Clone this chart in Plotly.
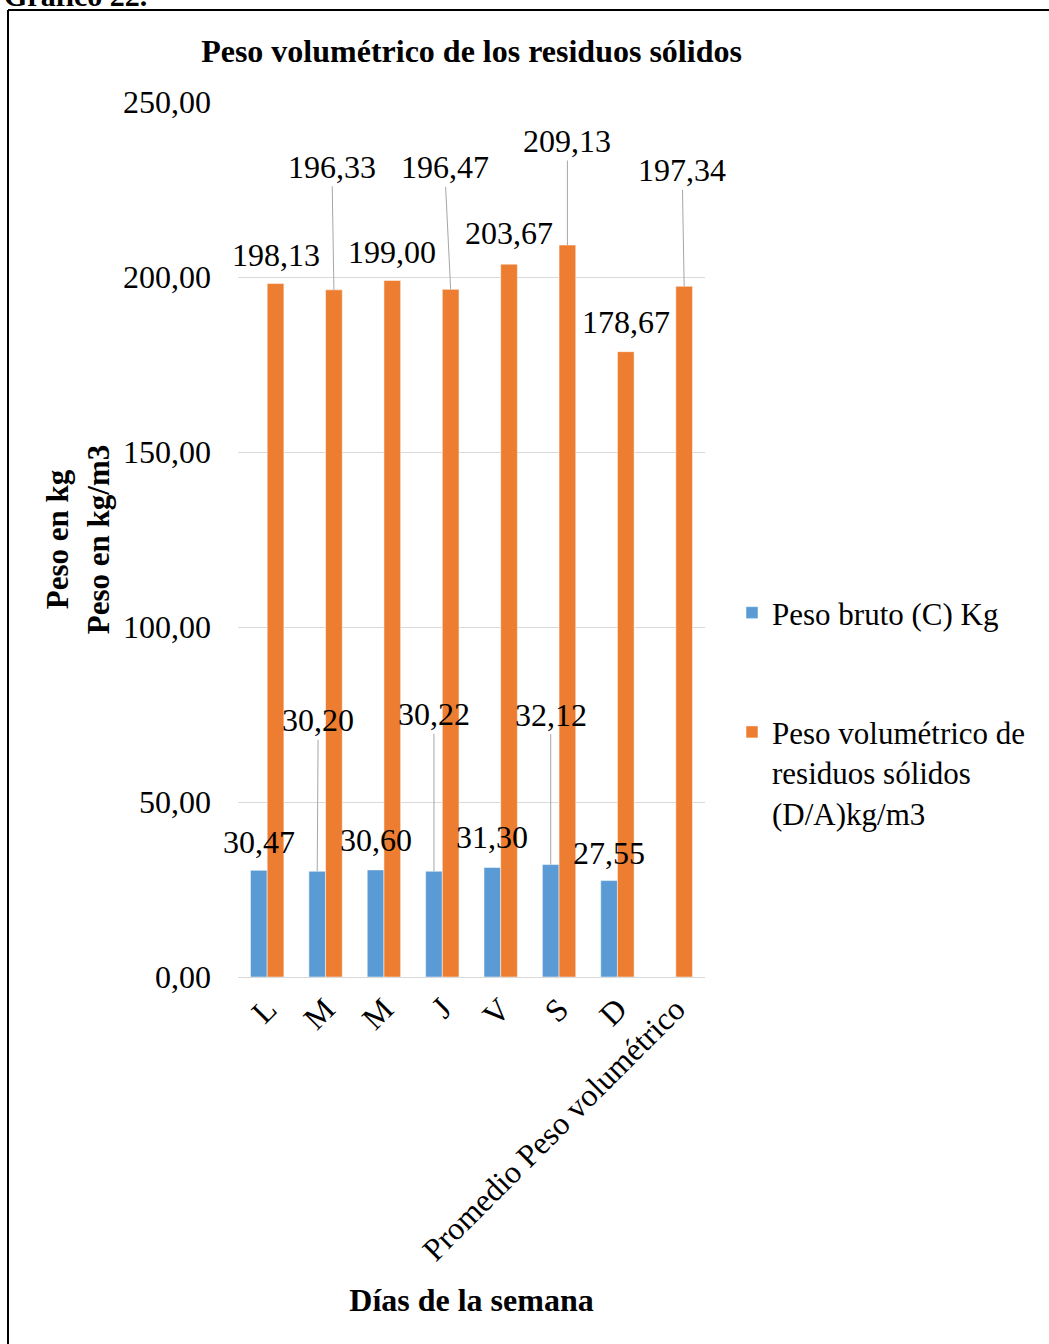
import plotly.graph_objects as go

# Días de la semana + promedio
dias = ["L", "M", "M", "J", "V", "S", "D", "Promedio Peso volumétrico"]
peso_bruto = [30.47, 30.20, 30.60, 30.22, 31.30, 32.12, 27.55, None]
peso_volumetrico = [198.13, 196.33, 199.00, 196.47, 203.67, 209.13, 178.67, 197.34]

nombre_bruto = "Peso bruto (C) Kg"
nombre_vol = "Peso volumétrico de<br>residuos sólidos<br>(D/A)kg/m3"

AZUL = "#5B9BD5"
NARANJA = "#ED7D31"
FUENTE = "Liberation Serif"
GRIS = "#D9D9D9"
TXT = 32

W, H = 1049, 1344
L_M, R_M, T_M, B_M = 238, 344, 102, 367
plot_w = W - L_M - R_M
plot_h = H - T_M - B_M

x_pos = list(range(len(dias)))
BAR_OFF = 0.143  # half of one bar width in category units

fig = go.Figure()
fig.add_bar(x=x_pos, y=peso_bruto, name=nombre_bruto, marker_color=AZUL,
            marker_line=dict(color="white", width=0.5), legendgroup="a")
fig.add_bar(x=x_pos, y=peso_volumetrico, name=nombre_vol, marker_color=NARANJA,
            marker_line=dict(color="white", width=0.5), legendgroup="b")


def fmt(v):
    return f"{v:.2f}".replace(".", ",")


# label offsets (px) from the bar top; leader line drawn when far away
off_bruto = [(0, -28), (1, -151), (0, -30), (0, -157), (0, -30), (0, -150), (0, -28), None]
off_vol = [(0, -29), (-2, -123), (0, -29), (-6, -122), (0, -31), (0, -104), (0, -30), (-2, -116)]

anns = []
for serie, offs, sgn in ((peso_bruto, off_bruto, -1), (peso_volumetrico, off_vol, 1)):
    for i, (v, off) in enumerate(zip(serie, offs)):
        if v is None:
            continue
        dx, dy = off
        leader = dy < -60
        anns.append(dict(
            x=i + sgn * BAR_OFF, y=v, xref="x", yref="y",
            text=fmt(v), font=dict(family=FUENTE, size=TXT, color="black"),
            showarrow=True, arrowhead=0, arrowwidth=1,
            arrowcolor="#A6A6A6" if leader else "rgba(0,0,0,0)",
            ax=dx, ay=dy, axref="pixel", ayref="pixel", standoff=0,
        ))

# caption above the framed chart
anns.append(dict(
    text="<b>Gráfico 22.</b>", xref="paper", yref="paper",
    x=(2 - L_M) / plot_w, y=(H - B_M - 14) / plot_h,
    xanchor="left", yanchor="bottom", showarrow=False,
    font=dict(family=FUENTE, size=30, color="black"),
))

fig.update_layout(
    width=W, height=H,
    margin=dict(l=L_M, r=R_M, t=T_M, b=B_M, autoexpand=False),
    paper_bgcolor="white", plot_bgcolor="white",
    separators=",.",
    barmode="group", bargap=0.428, bargroupgap=0,
    font=dict(family=FUENTE, size=TXT, color="black"),
    title=dict(text="<b>Peso volumétrico de los residuos sólidos</b>",
               x=0.5, xref="paper", y=1 - 51 / H, yref="container",
               xanchor="center", yanchor="middle",
               font=dict(family=FUENTE, size=32, color="black")),
    xaxis=dict(
        tickmode="array", tickvals=x_pos, ticktext=dias, tickangle=-45,
        range=[-0.5, len(dias) - 0.5], showgrid=False, showline=False,
        zeroline=False, ticks="", ticklabelstandoff=6,
        tickfont=dict(family=FUENTE, size=TXT, color="black"),
        title=dict(text="<b>Días de la semana</b>", standoff=21,
                   font=dict(family=FUENTE, size=32, color="black")),
    ),
    yaxis=dict(
        range=[0, 250], tickmode="linear", tick0=0, dtick=50, tickformat=".2f",
        showgrid=True, gridcolor=GRIS, gridwidth=1,
        zeroline=True, zerolinecolor=GRIS, zerolinewidth=1,
        showline=False, ticks="", ticklabelstandoff=26,
        tickfont=dict(family=FUENTE, size=TXT, color="black"),
        title=dict(text="<b>Peso en kg<br>Peso en kg/m3</b>", standoff=4,
                   font=dict(family=FUENTE, size=31, color="black")),
    ),
    legend=dict(
        x=(732 - L_M) / plot_w, y=(H - B_M - 586) / plot_h,
        xanchor="left", yanchor="top", valign="top",
        tracegroupgap=76, traceorder="grouped",
        font=dict(family=FUENTE, size=31, color="black"),
        bgcolor="rgba(0,0,0,0)",
    ),
    annotations=anns,
    shapes=[
        # frame around the chart (top and left edges)
        dict(type="line", xref="paper", yref="paper",
             x0=(8 - L_M) / plot_w, x1=(W + 20 - L_M) / plot_w,
             y0=(H - B_M - 10) / plot_h, y1=(H - B_M - 10) / plot_h,
             line=dict(color="black", width=2)),
        dict(type="line", xref="paper", yref="paper",
             x0=(8 - L_M) / plot_w, x1=(8 - L_M) / plot_w,
             y0=(H - B_M - 10) / plot_h, y1=(H - B_M - H - 20) / plot_h,
             line=dict(color="black", width=2)),
    ],
)

fig.write_html("out.html")
